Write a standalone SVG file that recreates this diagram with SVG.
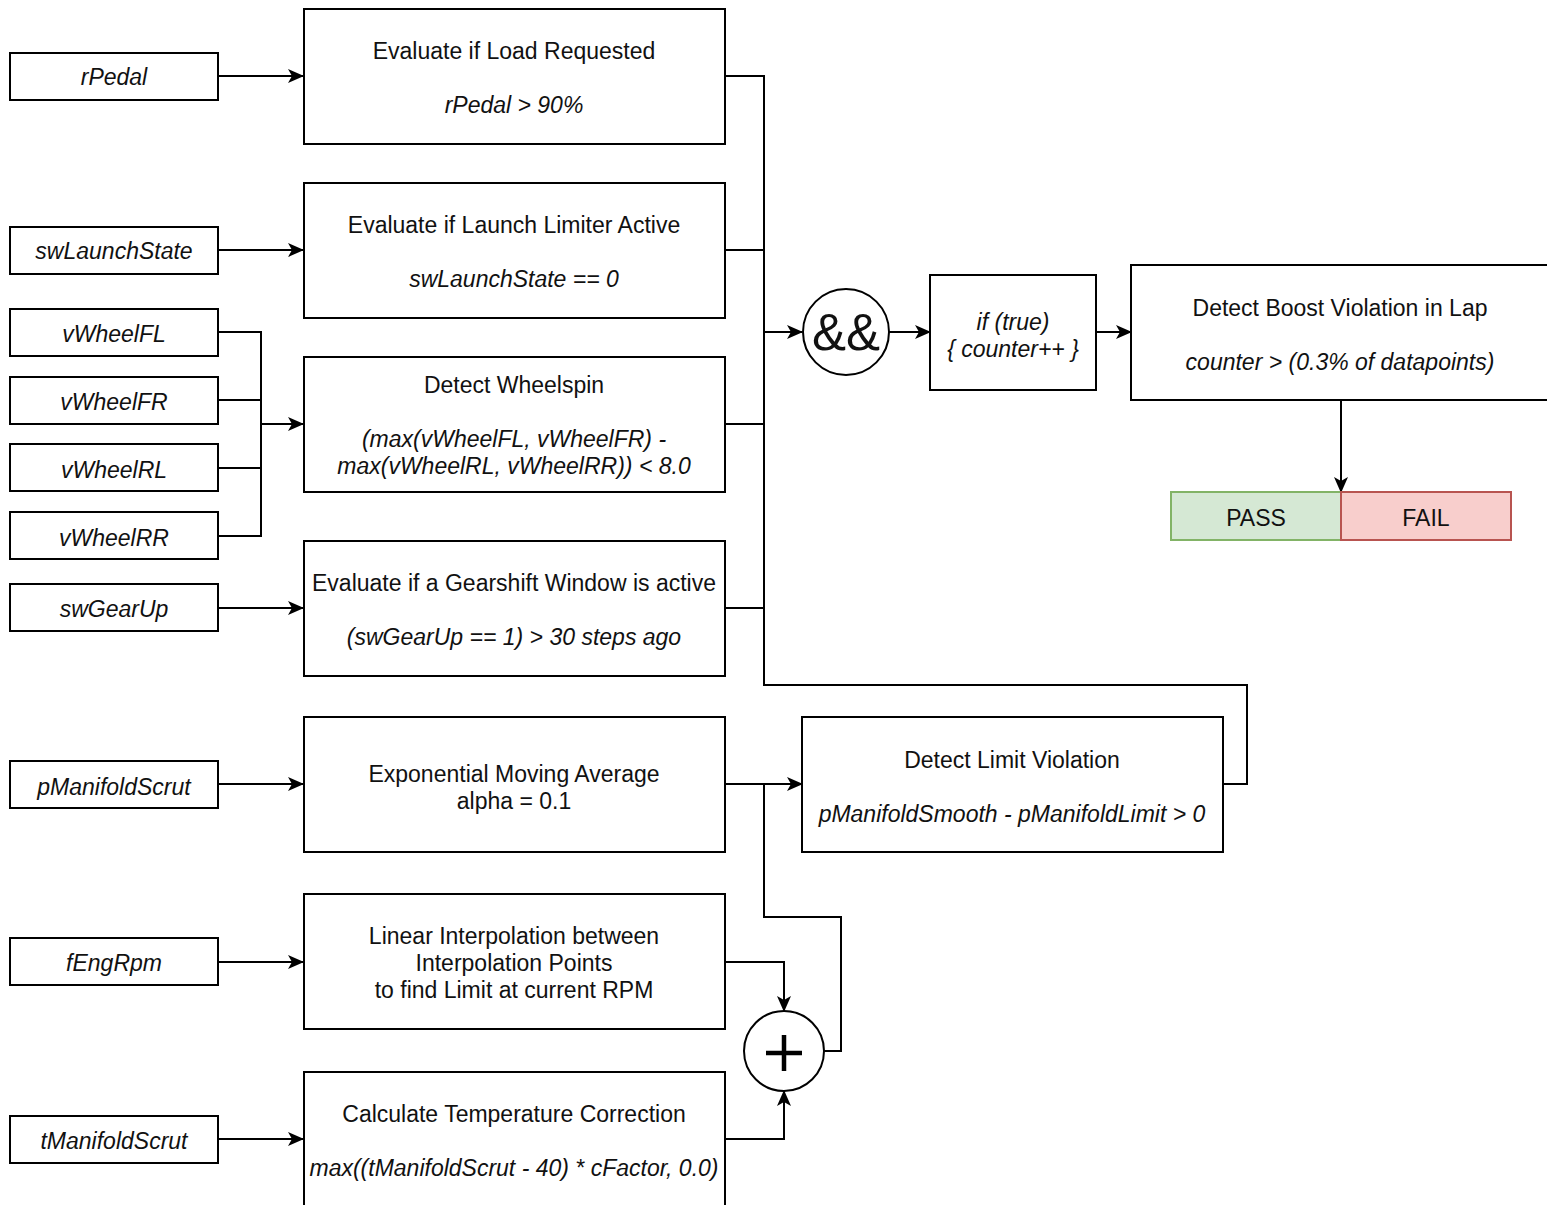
<svg xmlns="http://www.w3.org/2000/svg" width="1547" height="1205" viewBox="0 0 1547 1205">
<defs>
<marker id="ah" viewBox="0 0 16 14" refX="15" refY="7" markerWidth="16" markerHeight="14" markerUnits="userSpaceOnUse" orient="auto">
<path d="M0,0 L16,7 L0,14 L4,7 Z" fill="#000"/>
</marker>
<style>
.b{fill:#fff;stroke:#000;stroke-width:2}
.t{font-family:"Liberation Sans",Arial,sans-serif;font-size:23px;fill:#111;text-anchor:middle}
.i{font-style:italic}
.c{fill:none;stroke:#000;stroke-width:2}
.a{fill:none;stroke:#000;stroke-width:2;marker-end:url(#ah)}
</style>
</defs>
<rect width="1547" height="1205" fill="#fff"/>
<g id="connectors">
<path class="a" d="M218,76 H303"/>
<path class="a" d="M218,250 H303"/>
<path class="c" d="M218,332 H261 V536 H218 M218,400 H261 M218,468 H261"/>
<path class="a" d="M261,424 H303"/>
<path class="a" d="M218,608 H303"/>
<path class="a" d="M218,784 H303"/>
<path class="a" d="M218,962 H303"/>
<path class="a" d="M218,1139 H303"/>
<path class="c" d="M725,76 H764 V685 H1247 V784 H1223 M725,250 H764 M725,424 H764 M725,608 H764"/>
<path class="a" d="M764,332 H802"/>
<path class="a" d="M889,332 H930"/>
<path class="a" d="M1096,332 H1131"/>
<path class="a" d="M1341,400 V492"/>
<path class="a" d="M725,784 H802"/>
<path class="c" d="M824,1051 H841 V917 H764 V784"/>
<path class="a" d="M725,962 H784 V1011"/>
<path class="a" d="M725,1139 H784 V1091"/>
</g>
<g id="n_rPedal"><rect class="b" x="10" y="53" width="208" height="47"/><text class="t i" x="114" y="85">rPedal</text></g>
<g id="n_swLaunchState"><rect class="b" x="10" y="227" width="208" height="47"/><text class="t i" x="114" y="259">swLaunchState</text></g>
<g id="n_vWheelFL"><rect class="b" x="10" y="309" width="208" height="47"/><text class="t i" x="114" y="342">vWheelFL</text></g>
<g id="n_vWheelFR"><rect class="b" x="10" y="377" width="208" height="47"/><text class="t i" x="114" y="410">vWheelFR</text></g>
<g id="n_vWheelRL"><rect class="b" x="10" y="444" width="208" height="47"/><text class="t i" x="114" y="478">vWheelRL</text></g>
<g id="n_vWheelRR"><rect class="b" x="10" y="512" width="208" height="47"/><text class="t i" x="114" y="546">vWheelRR</text></g>
<g id="n_swGearUp"><rect class="b" x="10" y="584" width="208" height="47"/><text class="t i" x="114" y="617">swGearUp</text></g>
<g id="n_pManifoldScrut"><rect class="b" x="10" y="761" width="208" height="47"/><text class="t i" x="114" y="795">pManifoldScrut</text></g>
<g id="n_fEngRpm"><rect class="b" x="10" y="938" width="208" height="47"/><text class="t i" x="114" y="971">fEngRpm</text></g>
<g id="n_tManifoldScrut"><rect class="b" x="10" y="1116" width="208" height="47"/><text class="t i" x="114" y="1149">tManifoldScrut</text></g>

<g id="n_load"><rect class="b" x="304" y="9" width="421" height="135"/><text class="t" x="514" y="59">Evaluate if Load Requested</text><text class="t i" x="514" y="113">rPedal &gt; 90%</text></g>
<g id="n_launch"><rect class="b" x="304" y="183" width="421" height="135"/><text class="t" x="514" y="233">Evaluate if Launch Limiter Active</text><text class="t i" x="514" y="287">swLaunchState == 0</text></g>
<g id="n_wheelspin"><rect class="b" x="304" y="357" width="421" height="135"/><text class="t" x="514" y="393">Detect Wheelspin</text><text class="t i" x="514" y="447">(max(vWheelFL, vWheelFR) -</text><text class="t i" x="514" y="474">max(vWheelRL, vWheelRR)) &lt; 8.0</text></g>
<g id="n_gearshift"><rect class="b" x="304" y="541" width="421" height="135"/><text class="t" x="514" y="591">Evaluate if a Gearshift Window is active</text><text class="t i" x="514" y="645">(swGearUp == 1) &gt; 30 steps ago</text></g>
<g id="n_ema"><rect class="b" x="304" y="717" width="421" height="135"/><text class="t" x="514" y="782">Exponential Moving Average</text><text class="t" x="514" y="809">alpha = 0.1</text></g>
<g id="n_interp"><rect class="b" x="304" y="894" width="421" height="135"/><text class="t" x="514" y="944">Linear Interpolation between</text><text class="t" x="514" y="971">Interpolation Points</text><text class="t" x="514" y="998">to find Limit at current RPM</text></g>
<g id="n_temp"><rect class="b" x="304" y="1072" width="421" height="140"/><text class="t" x="514" y="1122">Calculate Temperature Correction</text><text class="t i" x="514" y="1176">max((tManifoldScrut - 40) * cFactor, 0.0)</text></g>

<g id="n_and"><circle class="b" cx="846" cy="332" r="43"/><text class="t" x="846" y="350" style="font-size:51px">&amp;&amp;</text></g>
<g id="n_counter"><rect class="b" x="930" y="275" width="166" height="115"/><text class="t i" x="1013" y="330">if (true)</text><text class="t i" x="1013" y="357">{ counter++ }</text></g>
<g id="n_boost"><rect class="b" x="1131" y="265" width="420" height="135"/><text class="t" x="1340" y="316">Detect Boost Violation in Lap</text><text class="t i" x="1340" y="370">counter &gt; (0.3% of datapoints)</text></g>
<g id="n_pass"><rect x="1171" y="492" width="170" height="48" fill="#d5e8d4" stroke="#82b366" stroke-width="2"/><text class="t" x="1256" y="526">PASS</text></g>
<g id="n_fail"><rect x="1341" y="492" width="170" height="48" fill="#f8cecc" stroke="#b85450" stroke-width="2"/><text class="t" x="1426" y="526">FAIL</text></g>
<g id="n_limit"><rect class="b" x="802" y="717" width="421" height="135"/><text class="t" x="1012" y="768">Detect Limit Violation</text><text class="t i" x="1012" y="822">pManifoldSmooth - pManifoldLimit &gt; 0</text></g>
<g id="n_plus"><circle class="b" cx="784" cy="1051" r="40"/><path d="M766,1053 H802 M784,1035 V1071" stroke="#000" stroke-width="4.5" fill="none"/></g>
</svg>
